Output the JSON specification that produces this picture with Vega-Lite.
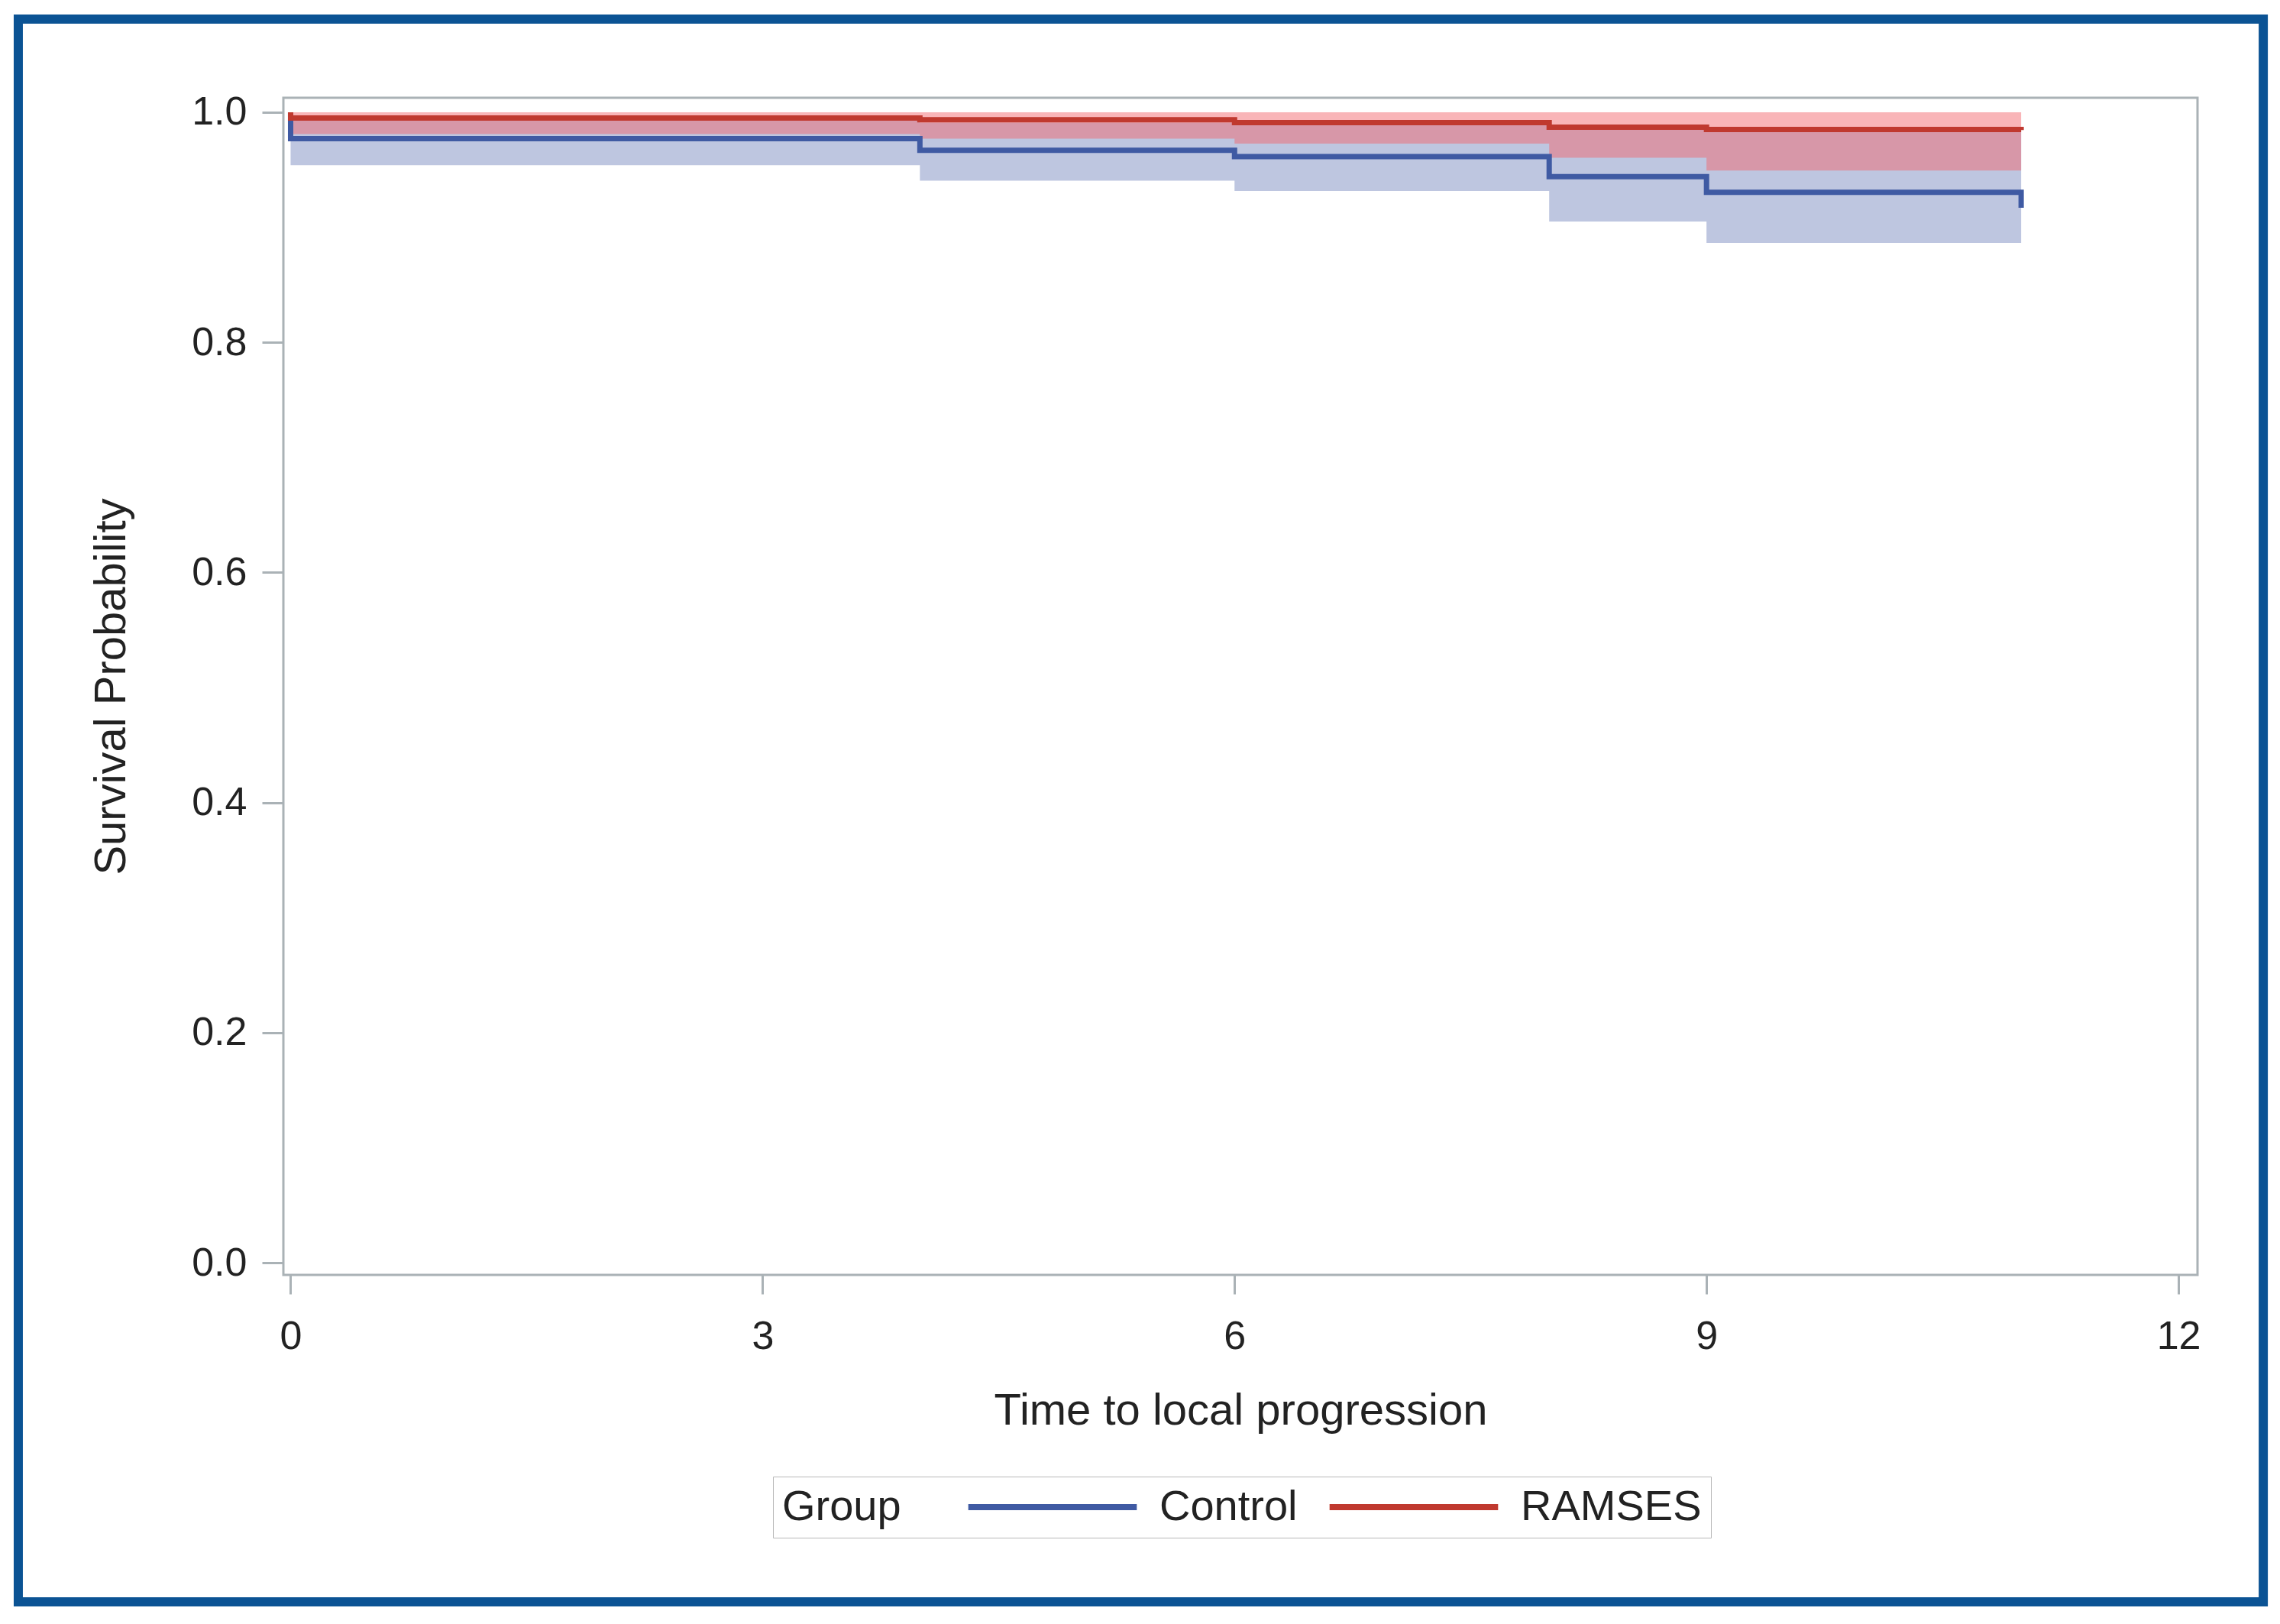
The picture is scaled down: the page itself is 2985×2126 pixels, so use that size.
{
  "$schema": "https://vega.github.io/schema/vega-lite/v6.json",
  "autosize": {"type": "none"},
  "width": 2506,
  "height": 1541,
  "padding": {"left": 371, "top": 128, "right": 108, "bottom": 457},
  "background": "white",
  "config": {
    "view": {"stroke": "#aab2b6", "strokeWidth": 3},
    "font": "Liberation Sans",
    "axis": {
      "domain": false,
      "grid": false,
      "tickColor": "#aab2b6",
      "tickWidth": 3,
      "labelFont": "Liberation Sans",
      "labelFontSize": 52,
      "labelColor": "#222222",
      "titleFont": "Liberation Sans",
      "titleFontSize": 58,
      "titleFontWeight": "normal",
      "titleColor": "#222222"
    }
  },
  "datasets": {
    "curves": [
      {"group": "Control", "i": 0, "time": 0, "surv": 1.0},
      {"group": "Control", "i": 1, "time": 0, "surv": 0.977},
      {"group": "Control", "i": 2, "time": 4, "surv": 0.967},
      {"group": "Control", "i": 3, "time": 6, "surv": 0.9615},
      {"group": "Control", "i": 4, "time": 8, "surv": 0.944},
      {"group": "Control", "i": 5, "time": 9, "surv": 0.9305},
      {"group": "Control", "i": 6, "time": 11, "surv": 0.917},
      {"group": "RAMSES", "i": 0, "time": 0, "surv": 1.0},
      {"group": "RAMSES", "i": 1, "time": 0, "surv": 0.995},
      {"group": "RAMSES", "i": 2, "time": 4, "surv": 0.9935},
      {"group": "RAMSES", "i": 3, "time": 6, "surv": 0.991},
      {"group": "RAMSES", "i": 4, "time": 8, "surv": 0.987},
      {"group": "RAMSES", "i": 5, "time": 9, "surv": 0.985},
      {"group": "RAMSES", "i": 6, "time": 11, "surv": 0.9845}
    ],
    "bands": [
      {"group": "Control", "time": 0, "lower": 0.954, "upper": 0.993},
      {"group": "Control", "time": 4, "lower": 0.9405, "upper": 0.991},
      {"group": "Control", "time": 6, "lower": 0.9316, "upper": 0.989},
      {"group": "Control", "time": 8, "lower": 0.905, "upper": 0.985},
      {"group": "Control", "time": 9, "lower": 0.8864, "upper": 0.983},
      {"group": "Control", "time": 11, "lower": 0.865, "upper": 0.983},
      {"group": "RAMSES", "time": 0, "lower": 0.981, "upper": 1.0},
      {"group": "RAMSES", "time": 4, "lower": 0.977, "upper": 1.0},
      {"group": "RAMSES", "time": 6, "lower": 0.9727, "upper": 1.0},
      {"group": "RAMSES", "time": 8, "lower": 0.9604, "upper": 1.0},
      {"group": "RAMSES", "time": 9, "lower": 0.9494, "upper": 1.0},
      {"group": "RAMSES", "time": 11, "lower": 0.938, "upper": 1.0}
    ]
  },
  "layer": [
    {
      "data": {"values": [{}]},
      "mark": {"type": "rect", "fill": null, "stroke": "#0b5394", "strokeWidth": 12, "clip": false},
      "encoding": {
        "x": {"datum": -1.731, "type": "quantitative", "scale": {"domain": [-0.046, 12.121], "nice": false, "zero": false}},
        "x2": {"datum": 12.539},
        "y": {"datum": 1.081, "type": "quantitative", "scale": {"domain": [-0.0106, 1.0126], "nice": false, "zero": false}},
        "y2": {"datum": -0.2948}
      }
    },
    {
      "data": {"name": "bands"},
      "transform": [{"filter": "datum.group === 'Control'"}],
      "mark": {"type": "area", "interpolate": "step-after", "fill": "#bec6e0", "opacity": 1},
      "encoding": {
        "x": {"field": "time", "type": "quantitative"},
        "y": {"field": "lower", "type": "quantitative"},
        "y2": {"field": "upper"}
      }
    },
    {
      "data": {"name": "bands"},
      "transform": [{"filter": "datum.group === 'RAMSES'"}],
      "mark": {"type": "area", "interpolate": "step-after", "fill": "#f2656b", "opacity": 0.48},
      "encoding": {
        "x": {"field": "time", "type": "quantitative"},
        "y": {"field": "lower", "type": "quantitative"},
        "y2": {"field": "upper"}
      }
    },
    {
      "data": {"name": "curves"},
      "mark": {"type": "line", "interpolate": "step-after", "strokeWidth": 7},
      "encoding": {
        "x": {
          "field": "time",
          "type": "quantitative",
          "axis": {"values": [0, 3, 6, 9, 12], "format": "d", "tickSize": 25, "labelPadding": 30, "title": "Time to local progression", "titlePadding": 43}
        },
        "y": {
          "field": "surv",
          "type": "quantitative",
          "axis": {"values": [0, 0.2, 0.4, 0.6, 0.8, 1.0], "format": ".1f", "tickSize": 28, "labelPadding": 20, "title": "Survival Probability", "titlePadding": 75}
        },
        "order": {"field": "i"},
        "color": {
          "field": "group",
          "type": "nominal",
          "scale": {"domain": ["Control", "RAMSES"], "range": ["#3f5aa3", "#c0392f"]},
          "legend": {
            "title": "Group",
            "orient": "none",
            "legendX": 641,
            "legendY": 1805,
            "direction": "horizontal",
            "titleOrient": "left",
            "symbolType": "M-6,0H6",
            "symbolSize": 1352,
            "symbolStrokeWidth": 8,
            "labelOffset": 112,
            "columnPadding": 25,
            "titlePadding": 170,
            "padding": 12,
            "labelLimit": 500,
            "titleLimit": 500,
            "strokeColor": "#b8b8b8",
            "fillColor": "white",
            "labelFont": "Liberation Sans",
            "titleFont": "Liberation Sans",
            "labelFontSize": 56,
            "titleFontSize": 56,
            "titleFontWeight": "normal",
            "labelColor": "#222222",
            "titleColor": "#222222"
          }
        }
      }
    }
  ]
}
